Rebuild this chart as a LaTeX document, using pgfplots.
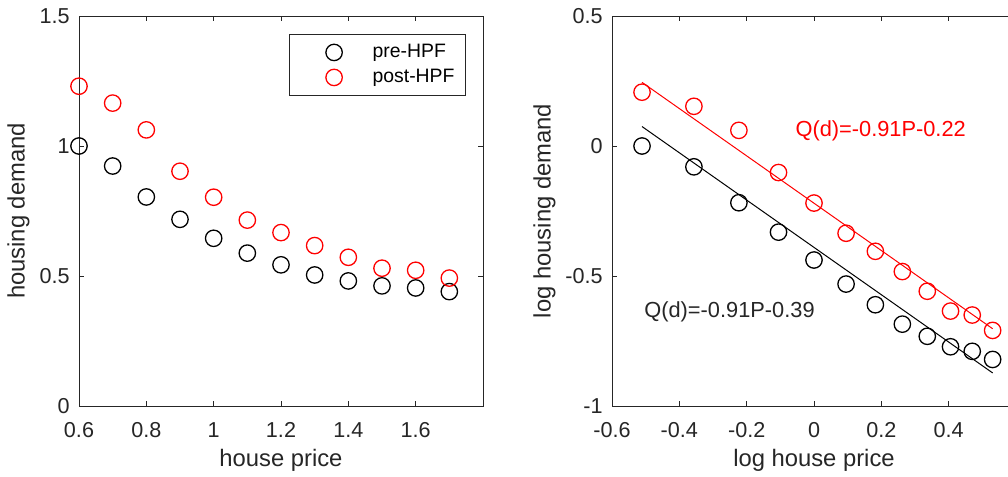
\documentclass[border=0pt]{standalone}
\usepackage{fontspec}
\setmainfont{Liberation Sans}
\usepackage{pgfplots}
\pgfplotsset{compat=1.18}
\definecolor{axgray}{gray}{0.15}
\definecolor{mred}{rgb}{1,0,0}
\pgfplotsset{
  mlstyle/.style={
    scale only axis, width=202pt, height=195pt,
    clip=false,
    axis line style={axgray, line width=0.5pt},
    tick style={axgray, line width=0.5pt},
    major tick length=2.5pt,
    tick align=inside,
    /pgf/number format/assume math mode=true,
    tick label style={font=\fontsize{10.8}{13}\selectfont, text=axgray},
    xticklabel style={anchor=base, yshift=-15.5pt, inner sep=0pt},
    yticklabel style={anchor=east, xshift=-4.5pt, inner sep=0pt},
    xlabel style={font=\fontsize{11.9}{14}\selectfont, text=axgray, at={(axis description cs:0.5,0)}, anchor=base, yshift=-30.5pt, inner sep=0pt},
    every axis y label/.style={at={(axis description cs:0,0.5)}, rotate=90, anchor=south, inner sep=0pt, font=\fontsize{11.9}{14}\selectfont, text=axgray},
    mk/.style={only marks, mark=o, mark size=4.1pt, mark options={line width=0.65pt}},
  }
}
\begin{document}
\begin{tikzpicture}
\useasboundingbox (0,0) rectangle (504pt,238.5pt);
% left panel
\begin{axis}[mlstyle, at={(39.5pt,35.5pt)}, anchor=south west,
  xmin=0.6, xmax=1.8, ymin=0, ymax=1.5,
  xtick={0.6,0.8,1,1.2,1.4,1.6}, ytick={0,0.5,1,1.5},
  xlabel={house price}, ylabel={housing demand},
  ylabel style={yshift=24.5pt},
  legend style={at={(rel axis cs:0.958,0.954)}, anchor=north east,
    draw=axgray, line width=0.5pt,
    font=\fontsize{9.7}{11}\selectfont, text=black,
    inner xsep=5.5pt, inner ysep=4.5pt, row sep=3.5pt,
    nodes={inner sep=0pt, text height=7pt, text depth=2pt}},
  legend cell align=left,
  legend image code/.code={\draw[#1] plot coordinates {(0pt,0pt)}; \path (-16.5pt,0pt) (19pt,0pt);},
]
\addplot[mk, draw=black] coordinates {
(0.6,1.000) (0.7,0.923) (0.8,0.804) (0.9,0.718) (1.0,0.645) (1.1,0.588)
(1.2,0.543) (1.3,0.504) (1.4,0.481) (1.5,0.462) (1.6,0.454) (1.7,0.440)};
\addlegendentry{pre-HPF}
\addplot[mk, draw=mred] coordinates {
(0.6,1.230) (0.7,1.165) (0.8,1.062) (0.9,0.903) (1.0,0.803) (1.1,0.715)
(1.2,0.667) (1.3,0.617) (1.4,0.572) (1.5,0.530) (1.6,0.522) (1.7,0.492)};
\addlegendentry{post-HPF}
\end{axis}
% right panel
\begin{axis}[mlstyle, at={(306pt,35.5pt)}, anchor=south west,
  xmin=-0.6, xmax=0.6, ymin=-1, ymax=0.5,
  xtick={-0.6,-0.4,-0.2,0,0.2,0.4}, ytick={-1,-0.5,0,0.5},
  xlabel={log house price}, ylabel={log housing demand},
  ylabel style={yshift=28pt},
]
\addplot[mk, draw=black] coordinates {
(-0.5108,0.0000) (-0.3567,-0.0801) (-0.2231,-0.2182) (-0.1054,-0.3313)
(0.0000,-0.4385) (0.0953,-0.5310) (0.1823,-0.6106) (0.2624,-0.6852)
(0.3365,-0.7319) (0.4055,-0.7722) (0.4700,-0.7897) (0.5306,-0.8210)};
\addplot[mk, draw=mred] coordinates {
(-0.5108,0.2070) (-0.3567,0.1527) (-0.2231,0.0602) (-0.1054,-0.1020)
(0.0000,-0.2194) (0.0953,-0.3355) (0.1823,-0.4050) (0.2624,-0.4829)
(0.3365,-0.5586) (0.4055,-0.6349) (0.4700,-0.6501) (0.5306,-0.7093)};
\addplot[black, line width=0.5pt] coordinates {(-0.5108,0.0748) (0.5306,-0.8728)};
\addplot[mred, line width=0.5pt] coordinates {(-0.5108,0.2448) (0.5306,-0.7028)};
\node[anchor=west, inner sep=0pt, font=\fontsize{10.9}{13}\selectfont, text=axgray] at (axis cs:-0.505,-0.638) {Q(d)=-0.91P-0.39};
\node[anchor=west, inner sep=0pt, font=\fontsize{10.9}{13}\selectfont, text=mred] at (axis cs:-0.056,0.059) {Q(d)=-0.91P-0.22};
\end{axis}
\end{tikzpicture}
\end{document}
